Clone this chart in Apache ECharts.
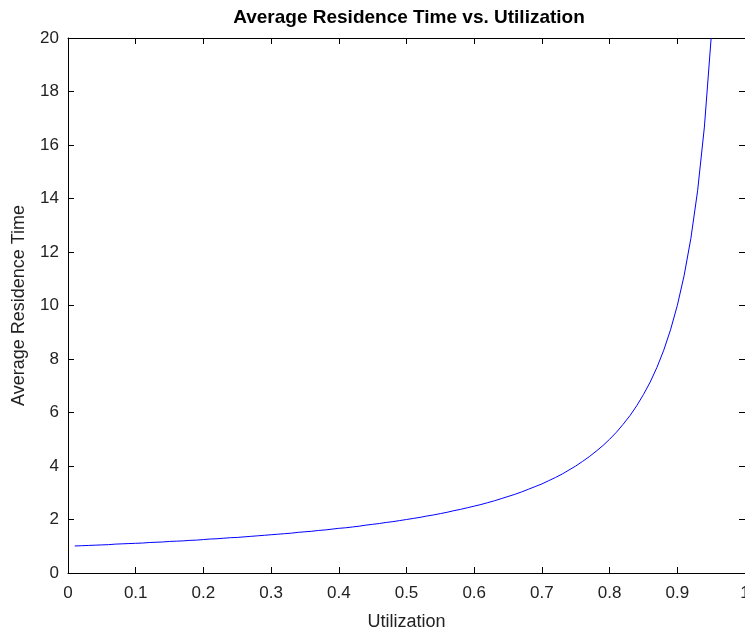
<!DOCTYPE html>
<html>
<head>
    <meta charset="utf-8" />
    <script src="https://cdn.jsdelivr.net/npm/echarts@6/dist/echarts.min.js"></script>
    <title>Average Residence Time vs. Utilization</title>
    <style>
        html, body { margin: 0; padding: 0; background: #fff; }
        #chart { width: 745px; height: 632px; }
    </style>
</head>
<body>
    <div id="chart"></div>
    <script type="text/javascript">
        // utilization (x) and average residence time (y)
        var utilization = [
            0.01, 0.02, 0.03, 0.04, 0.05, 0.06, 0.07, 0.08, 0.09, 0.10,
            0.11, 0.12, 0.13, 0.14, 0.15, 0.16, 0.17, 0.18, 0.19, 0.20,
            0.21, 0.22, 0.23, 0.24, 0.25, 0.26, 0.27, 0.28, 0.29, 0.30,
            0.31, 0.32, 0.33, 0.34, 0.35, 0.36, 0.37, 0.38, 0.39, 0.40,
            0.41, 0.42, 0.43, 0.44, 0.45, 0.46, 0.47, 0.48, 0.49, 0.50,
            0.51, 0.52, 0.53, 0.54, 0.55, 0.56, 0.57, 0.58, 0.59, 0.60,
            0.61, 0.62, 0.63, 0.64, 0.65, 0.66, 0.67, 0.68, 0.69, 0.70,
            0.71, 0.72, 0.73, 0.74, 0.75, 0.76, 0.77, 0.78, 0.79, 0.80,
            0.81, 0.82, 0.83, 0.84, 0.85, 0.86, 0.87, 0.88, 0.89, 0.90,
            0.91, 0.92, 0.93, 0.94, 0.95
        ];
        var residenceTime = [
            1.01, 1.02, 1.03, 1.04, 1.05, 1.06, 1.08, 1.09, 1.10, 1.11,
            1.12, 1.14, 1.15, 1.16, 1.18, 1.19, 1.20, 1.22, 1.23, 1.25,
            1.27, 1.28, 1.30, 1.32, 1.33, 1.35, 1.37, 1.39, 1.41, 1.43,
            1.45, 1.47, 1.49, 1.52, 1.54, 1.56, 1.59, 1.61, 1.64, 1.67,
            1.69, 1.72, 1.75, 1.79, 1.82, 1.85, 1.89, 1.92, 1.96, 2.00,
            2.04, 2.08, 2.13, 2.17, 2.22, 2.27, 2.33, 2.38, 2.44, 2.50,
            2.56, 2.63, 2.70, 2.78, 2.86, 2.94, 3.03, 3.13, 3.23, 3.33,
            3.45, 3.57, 3.70, 3.85, 4.00, 4.17, 4.35, 4.55, 4.76, 5.00,
            5.26, 5.56, 5.88, 6.25, 6.67, 7.14, 7.69, 8.33, 9.09, 10.00,
            11.11, 12.50, 14.29, 16.67, 20.00
        ];
        var xTicks = [0, 0.1, 0.2, 0.3, 0.4, 0.5, 0.6, 0.7, 0.8, 0.9, 1];
        var yTicks = [0, 2, 4, 6, 8, 10, 12, 14, 16, 18, 20];

        var chart = echarts.init(document.getElementById('chart'));
        var font = 'Liberation Sans, Arial, Helvetica, sans-serif';
        var axisLine = { show: true, onZero: false, lineStyle: { color: '#000', width: 1 } };
        var tickIn = { show: true, inside: true, length: 6, lineStyle: { color: '#000' } };

        var option = {
            animation: false,
            backgroundColor: '#fff',
            title: {
                text: 'Average Residence Time vs. Utilization',
                left: 404,
                top: 3,
                textAlign: 'center',
                textStyle: { fontFamily: font, fontSize: 19, fontWeight: 'bold', color: '#000' }
            },
            grid: { left: 68, top: 38, right: 0, bottom: 59, containLabel: false, outerBoundsMode: 'none' },
            xAxis: [
                {
                    type: 'value', min: 0, max: 1, interval: 0.1,
                    name: 'Utilization', nameLocation: 'middle', nameGap: 40,
                    nameTextStyle: { fontFamily: font, fontSize: 18, color: '#222' },
                    axisLine: axisLine, axisTick: tickIn, splitLine: { show: false },
                    axisLabel: {
                        fontFamily: font, fontSize: 17, color: '#222', margin: 12,
                        formatter: function (v) { return xTicks.indexOf(Math.round(v * 10) / 10) >= 0 ? String(Math.round(v * 10) / 10) : ''; }
                    }
                },
                {
                    type: 'value', min: 0, max: 1, interval: 0.1, position: 'top',
                    axisLine: axisLine, axisTick: tickIn, axisLabel: { show: false }, splitLine: { show: false }
                }
            ],
            yAxis: [
                {
                    type: 'value', min: 0, max: 20, interval: 2,
                    name: 'Average Residence Time', nameLocation: 'middle', nameGap: 40,
                    nameTextStyle: { fontFamily: font, fontSize: 18, color: '#222' },
                    axisLine: axisLine, axisTick: tickIn, splitLine: { show: false },
                    axisLabel: {
                        fontFamily: font, fontSize: 17, color: '#222', margin: 9,
                        formatter: function (v) { return yTicks.indexOf(v) >= 0 ? String(v) : ''; }
                    }
                },
                {
                    type: 'value', min: 0, max: 20, interval: 2, position: 'right',
                    axisLine: axisLine, axisTick: tickIn, axisLabel: { show: false }, splitLine: { show: false }
                }
            ],
            series: [{
                type: 'line',
                data: utilization.map(function (u, i) { return [u, residenceTime[i]]; }),
                showSymbol: false,
                lineStyle: { color: '#0000ff', width: 1 },
                itemStyle: { color: '#0000ff' },
                clip: true
            }]
        };
        chart.setOption(option);
    </script>
</body>
</html>
